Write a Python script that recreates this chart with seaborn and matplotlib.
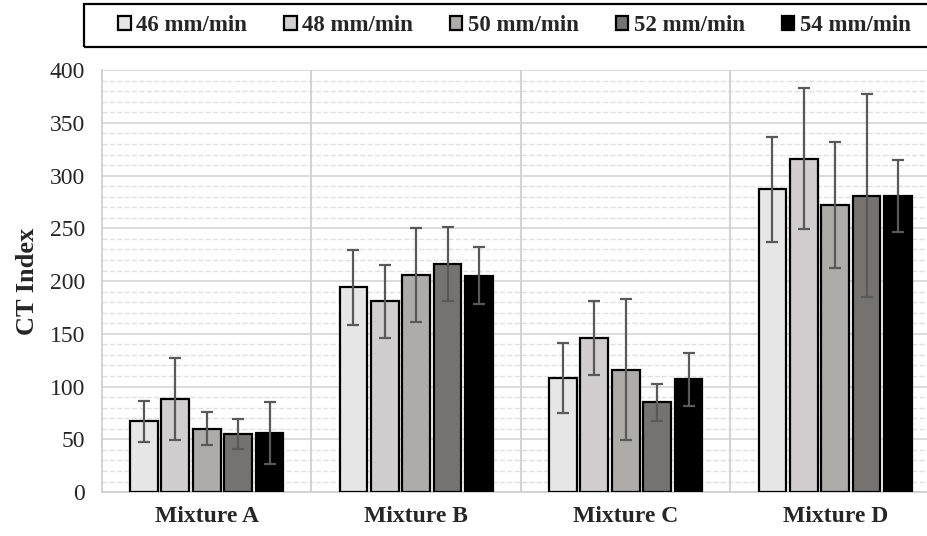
import pandas as pd
import numpy as np
import matplotlib.pyplot as plt
import seaborn as sns
from matplotlib.ticker import MultipleLocator
from matplotlib.patches import Rectangle

mixtures = ['Mixture A', 'Mixture B', 'Mixture C', 'Mixture D']
speeds = ['46 mm/min', '48 mm/min', '50 mm/min', '52 mm/min', '54 mm/min']

# mean CT index, one list per speed (order = mixtures)
ct_46 = [67, 194, 108, 287]
ct_48 = [88, 181, 146, 316]
ct_50 = [60, 206, 116, 272]
ct_52 = [55, 216, 85, 281]
ct_54 = [56, 205, 107, 281]

# error bar half-widths
err_46 = [19.5, 35.5, 33, 50]
err_48 = [39, 34.5, 35, 67]
err_50 = [15.5, 44.5, 67, 60]
err_52 = [14, 35, 17.5, 96]
err_54 = [29, 27, 25, 34]

colors = ['#e7e6e6', '#d0cece', '#aeaaaa', '#767171', '#000000']

means = [ct_46, ct_48, ct_50, ct_52, ct_54]
errs = [err_46, err_48, err_50, err_52, err_54]
rows = []
for s, m, e in zip(speeds, means, errs):
    for mix, v, ev in zip(mixtures, m, e):
        rows.append({'Mixture': mix, 'Speed': s, 'CT': v, 'err': ev})
df = pd.DataFrame(rows)

sns.set_theme(style='white')
plt.rcParams['font.family'] = ['Liberation Serif', 'DejaVu Serif']

fig = plt.figure(figsize=(9.27, 5.36), dpi=100)
ax = fig.add_axes([0.110, 0.082, 0.904, 0.787])

sns.barplot(data=df, x='Mixture', y='CT', hue='Speed', hue_order=speeds,
            palette=colors, edgecolor='black', linewidth=1.6,
            width=0.75, gap=0.12, errorbar=None, ax=ax, zorder=3)

# error bars on each bar
for cont, s in zip(ax.containers, speeds):
    sub = df[df['Speed'] == s].set_index('Mixture').loc[mixtures]
    xs = [p.get_x() + p.get_width() / 2 for p in cont.patches]
    ax.errorbar(xs, sub['CT'].values, yerr=sub['err'].values, fmt='none',
                ecolor='#595959', elinewidth=1.6, capsize=4.5, capthick=1.6, zorder=4)

ax.set_ylim(0, 400)
ax.set_xlim(-0.5, 3.5)
ax.yaxis.set_major_locator(MultipleLocator(50))
ax.yaxis.set_minor_locator(MultipleLocator(10))
ax.grid(axis='y', which='major', color='#d9d9d9', linewidth=1.3, zorder=0)
ax.grid(axis='y', which='minor', color='#e0e0e0', linewidth=1.0, linestyle='--', zorder=0)
for xv in [0.5, 1.5, 2.5]:
    ax.axvline(xv, color='#d0d0d0', linewidth=1.3, zorder=1)
ax.set_axisbelow(True)

for side in ['top', 'right']:
    ax.spines[side].set_visible(False)
for side in ['left', 'bottom']:
    ax.spines[side].set_color('#d0d0d0')
    ax.spines[side].set_linewidth(1.3)

ax.tick_params(axis='both', length=0)
ax.tick_params(axis='y', labelsize=17, pad=12)
ax.tick_params(axis='x', labelsize=17, pad=10)
for lbl in ax.get_xticklabels():
    lbl.set_fontweight('bold')
ax.set_xlabel('')
ax.set_ylabel('CT Index', fontsize=19, fontweight='bold', labelpad=8)

# legend frame box running off the right edge
fig.patches.append(Rectangle((0.0906, 0.9123), 1.0, 0.0802, transform=fig.transFigure,
                             fill=False, edgecolor='black', linewidth=1.6))

handles, labels = ax.get_legend_handles_labels()
ax.legend_.remove()
leg = fig.legend(handles, labels, loc='center', bbox_to_anchor=(0.555, 0.952),
                 ncol=5, frameon=False,
                 prop={'weight': 'bold', 'size': 16.5}, handlelength=0.55, handleheight=0.55,
                 handletextpad=0.25, borderpad=0.2, columnspacing=1.6)

fig.savefig('out.png', dpi=100)
